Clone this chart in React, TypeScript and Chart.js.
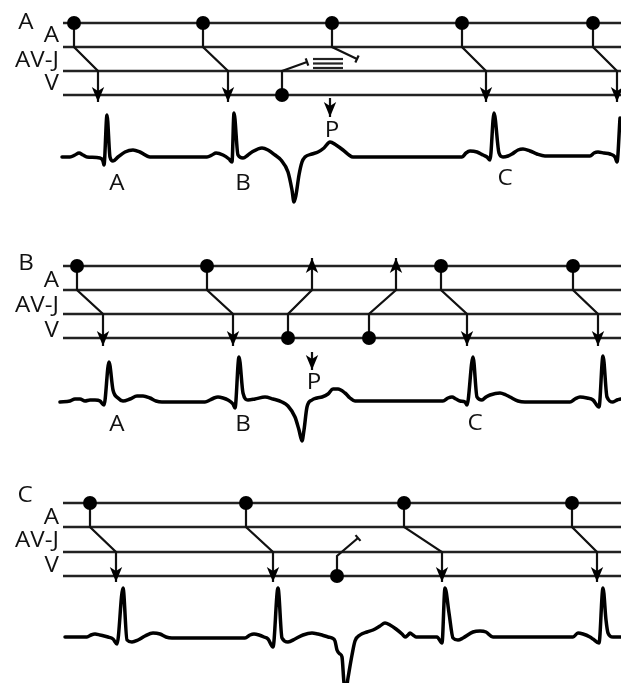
import React, { useEffect, useRef } from 'react';
import { Chart, registerables } from 'chart.js';

Chart.register(...registerables);

// ---------- data (diagram units: x = time position, y = vertical position) ----------
const X_RANGE = [0, 621];
const Y_RANGE = [0, 683];
const LADDER_X = [63, 621];

const LADDER_Y_A = [23, 47, 71, 95];
const LADDER_Y_B = [266, 290, 314, 338];
const LADDER_Y_C = [503, 527, 552, 576];

const PANEL_NAMES = ['A', 'B', 'C'];
const PANEL_NAME_POS = [[26, 22], [26, 263], [25, 495]];
const ROW_NAMES = ['A', 'AV-J', 'V'];
const ROW_LABEL_X = 59;
const ROW_LABEL_Y_A = [35, 60, 83.5];
const ROW_LABEL_Y_B = [280, 305, 330];
const ROW_LABEL_Y_C = [517, 540, 565];

type PathDef = { pts: number[][]; end: 'arrow' | 'block' | 'none' };

const PATHS_A: PathDef[] = [
  { pts: [[74, 23], [74, 47], [98, 71], [98, 102]], end: 'arrow' },
  { pts: [[203, 23], [203, 47], [228, 71], [228, 102]], end: 'arrow' },
  { pts: [[332, 23], [332, 47], [357, 59]], end: 'block' },
  { pts: [[462, 23], [462, 47], [486, 71], [486, 102]], end: 'arrow' },
  { pts: [[593, 23], [593, 47], [617, 71], [617, 102]], end: 'arrow' },
  { pts: [[282, 95], [282, 71], [307, 62]], end: 'block' },
  { pts: [[330, 98], [330, 117]], end: 'arrow' },
];
const DOTS_A = [[74, 23], [203, 23], [332, 23], [462, 23], [593, 23], [282, 95]];
const BLOCK_BARS_A = [[313, 343, 59], [313, 343, 63.5], [313, 343, 68]];

const PATHS_B: PathDef[] = [
  { pts: [[77, 266], [77, 290], [103, 314], [103, 346]], end: 'arrow' },
  { pts: [[207, 266], [207, 290], [233, 314], [233, 346]], end: 'arrow' },
  { pts: [[288, 338], [288, 314], [312, 290], [312, 258]], end: 'arrow' },
  { pts: [[369, 338], [369, 314], [396, 290], [396, 258]], end: 'arrow' },
  { pts: [[441, 266], [441, 290], [467, 314], [467, 346]], end: 'arrow' },
  { pts: [[573, 266], [573, 290], [598, 314], [598, 346]], end: 'arrow' },
  { pts: [[312, 352], [312, 370]], end: 'arrow' },
];
const DOTS_B = [[77, 266], [207, 266], [441, 266], [573, 266], [288, 338], [369, 338]];

const PATHS_C: PathDef[] = [
  { pts: [[90, 503], [90, 527], [116, 552], [116, 582]], end: 'arrow' },
  { pts: [[246, 503], [246, 527], [273, 552], [273, 582]], end: 'arrow' },
  { pts: [[337, 576], [337, 556], [358, 538]], end: 'block' },
  { pts: [[404, 503], [404, 527], [442, 552], [442, 582]], end: 'arrow' },
  { pts: [[572, 503], [572, 527], [597, 552], [597, 582]], end: 'arrow' },
];
const DOTS_C = [[90, 503], [246, 503], [404, 503], [572, 503], [337, 576]];

const ECG_A = [
  [62, 157], [70, 157], [75, 155], [79, 153], [83, 155], [87, 157], [100, 158], [103, 161], [104, 165],
  [107, 115], [110, 157], [113, 161], [118, 157], [125, 152], [133, 150], [140, 152], [150, 157],
  [207, 157], [212, 155], [216, 153], [223, 155], [229, 159], [232, 162], [234, 113], [238, 155],
  [243, 158], [248, 155], [252, 152], [262, 148], [268, 150], [275, 155], [281, 160], [288, 172],
  [292, 190], [294, 202], [296, 195], [299, 175], [302, 162], [305, 157], [312, 154], [318, 152],
  [324, 148], [330, 142], [336, 145], [343, 150], [349, 155], [353, 157], [462, 157], [466, 153],
  [470, 151], [477, 152], [483, 155], [487, 157], [490, 160], [494, 113], [499, 153], [503, 157],
  [508, 156], [512, 154], [518, 150], [523, 149], [530, 151], [537, 154], [545, 156], [590, 156],
  [594, 153], [598, 152], [604, 153], [610, 154], [615, 157], [617, 162], [620, 118],
];

const ECG_B = [
  [60, 402], [70, 401], [75, 399], [80, 399], [85, 401], [90, 400], [95, 400], [100, 401], [104, 405],
  [109, 362], [113, 390], [118, 398], [123, 401], [130, 399], [137, 396], [143, 396], [150, 398],
  [156, 401], [162, 402], [205, 402], [210, 400], [214, 398], [218, 397], [223, 398], [228, 400],
  [233, 404], [235, 408], [239, 357], [243, 393], [248, 400], [255, 399], [265, 397], [273, 399],
  [282, 402], [288, 406], [295, 417], [299, 430], [302, 441], [304, 430], [307, 407], [312, 400],
  [317, 398], [322, 397], [328, 394], [333, 389], [338, 389], [345, 393], [350, 398], [355, 401],
  [443, 401], [448, 398], [452, 397], [456, 399], [460, 401], [465, 402], [467, 405], [473, 357],
  [477, 397], [482, 400], [486, 397], [490, 395], [500, 393], [506, 395], [510, 397], [518, 401],
  [525, 402], [570, 402], [575, 399], [580, 397], [587, 398], [593, 400], [599, 407], [603, 356],
  [607, 397], [613, 402], [617, 400], [621, 399],
];

const ECG_C = [
  [65, 637], [87, 637], [91, 635], [95, 634], [100, 635], [108, 637], [113, 639], [117, 644],
  [123, 588], [127, 640], [132, 642], [138, 640], [145, 636], [153, 633], [160, 634], [166, 637],
  [172, 638], [245, 638], [250, 635], [254, 634], [259, 635], [264, 637], [268, 639], [273, 647],
  [278, 588], [282, 638], [288, 642], [295, 639], [303, 635], [312, 633], [318, 634], [322, 635],
  [328, 637], [332, 638], [335, 641], [337, 650], [340, 654], [342, 657], [344, 683], [346, 690],
  [348, 678], [352, 655], [355, 641], [360, 635], [367, 632], [373, 630], [380, 626], [385, 623],
  [390, 625], [396, 629], [402, 634], [405, 637], [408, 635], [410, 633], [413, 635], [416, 637],
  [437, 637], [442, 643], [445, 588], [449, 613], [453, 638], [458, 640], [463, 638], [473, 632],
  [480, 631], [486, 632], [493, 637], [573, 637], [578, 633], [583, 634], [590, 637], [593, 639],
  [599, 643], [603, 588], [606, 620], [608, 633], [613, 637], [621, 637],
];

const ECG_LABELS_A: [string, number, number][] = [['A', 117, 183], ['B', 243, 183], ['C', 505, 178], ['P', 332, 130]];
const ECG_LABELS_B: [string, number, number][] = [['A', 117, 424], ['B', 243, 424], ['C', 475, 423], ['P', 314, 382]];

// ---------- styles ----------
const LADDER_COLOR = '#222222';
const INK = '#000000';
const FONT = '21px "Open Sans", "DejaVu Sans", sans-serif';
const TEXT_STRETCH = 1.15;

const toXY = (p: number[]) => ({ x: p[0], y: p[1] });

function lineDs(points: number[][], width: number, color: string, extra: any = {}) {
  return {
    type: 'line' as const,
    data: points.map(toXY),
    borderColor: color,
    borderWidth: width,
    pointRadius: 0,
    showLine: true,
    fill: false,
    tension: 0,
    order: 2,
    ...extra,
  };
}

function buildDatasets() {
  const ds: any[] = [];
  for (const ys of [LADDER_Y_A, LADDER_Y_B, LADDER_Y_C]) {
    for (const y of ys) ds.push(lineDs([[LADDER_X[0], y], [LADDER_X[1], y]], 2.4, LADDER_COLOR, { order: 3 }));
  }
  for (const paths of [PATHS_A, PATHS_B, PATHS_C]) {
    for (const p of paths) ds.push(lineDs(p.pts, 2.2, '#111', { borderJoinStyle: 'miter' }));
  }
  for (const b of BLOCK_BARS_A) ds.push(lineDs([[b[0], b[2]], [b[1], b[2]]], 2.2, LADDER_COLOR));
  for (const ecg of [ECG_A, ECG_B, ECG_C]) {
    ds.push(
      lineDs(ecg, 3.5, INK, {
        cubicInterpolationMode: 'monotone',
        borderJoinStyle: 'round',
        borderCapStyle: 'round',
        order: 1,
      })
    );
  }
  for (const dots of [DOTS_A, DOTS_B, DOTS_C]) {
    ds.push({
      type: 'scatter' as const,
      data: dots.map(toXY),
      pointRadius: 7,
      pointBackgroundColor: INK,
      pointBorderWidth: 0,
      showLine: false,
      order: 0,
    });
  }
  return ds;
}

const overlayPlugin = {
  id: 'ladderOverlay',
  afterDatasetsDraw(chart: any) {
    const { ctx } = chart;
    const sx = chart.scales.x;
    const sy = chart.scales.y;
    const px = (p: number[]) => [sx.getPixelForValue(p[0]), sy.getPixelForValue(p[1])];
    ctx.save();
    ctx.fillStyle = INK;
    ctx.strokeStyle = '#111';
    ctx.lineWidth = 2.2;
    for (const paths of [PATHS_A, PATHS_B, PATHS_C]) {
      for (const path of paths) {
        const n = path.pts.length;
        const a = px(path.pts[n - 2]);
        const b = px(path.pts[n - 1]);
        const dx = b[0] - a[0];
        const dy = b[1] - a[1];
        const len = Math.hypot(dx, dy) || 1;
        const ux = dx / len, uy = dy / len;
        const nx = -uy, ny = ux;
        if (path.end === 'arrow') {
          const L = 15, W = 6.2, N = 11;
          ctx.beginPath();
          ctx.moveTo(b[0], b[1]);
          ctx.lineTo(b[0] - ux * L + nx * W, b[1] - uy * L + ny * W);
          ctx.lineTo(b[0] - ux * N, b[1] - uy * N);
          ctx.lineTo(b[0] - ux * L - nx * W, b[1] - uy * L - ny * W);
          ctx.closePath();
          ctx.fill();
        } else if (path.end === 'block') {
          const T = 3.8;
          ctx.beginPath();
          ctx.moveTo(b[0] + nx * T, b[1] + ny * T);
          ctx.lineTo(b[0] - nx * T, b[1] - ny * T);
          ctx.stroke();
        }
      }
    }
    // text
    ctx.fillStyle = '#111';
    ctx.font = FONT;
    ctx.textBaseline = 'middle';
    const drawText = (t: string, x: number, y: number, align: CanvasTextAlign) => {
      const [X, Y] = px([x, y]);
      ctx.save();
      ctx.translate(X, Y + 1);
      ctx.scale(TEXT_STRETCH, 1);
      ctx.textAlign = align;
      ctx.fillText(t, 0, 0);
      ctx.restore();
    };
    PANEL_NAMES.forEach((name, i) => drawText(name, PANEL_NAME_POS[i][0], PANEL_NAME_POS[i][1], 'center'));
    for (const ys of [ROW_LABEL_Y_A, ROW_LABEL_Y_B, ROW_LABEL_Y_C]) {
      ROW_NAMES.forEach((name, i) => drawText(name, ROW_LABEL_X, ys[i], 'right'));
    }
    for (const labels of [ECG_LABELS_A, ECG_LABELS_B]) {
      for (const [t, x, y] of labels) drawText(t, x, y, 'center');
    }
    ctx.restore();
  },
};

export default function App() {
  const canvasRef = useRef<HTMLCanvasElement>(null);
  useEffect(() => {
    document.body.style.margin = '0';
    document.body.style.background = '#ffffff';
    const canvas = canvasRef.current;
    if (!canvas) return;
    const chart = new Chart(canvas, {
      type: 'scatter',
      data: { datasets: buildDatasets() },
      options: {
        responsive: false,
        animation: false,
        devicePixelRatio: 1,
        events: [],
        layout: { padding: 0, autoPadding: false } as any,
        plugins: { legend: { display: false }, tooltip: { enabled: false }, title: { display: false } },
        scales: {
          x: { type: 'linear', min: X_RANGE[0], max: X_RANGE[1], display: false },
          y: { type: 'linear', min: Y_RANGE[0], max: Y_RANGE[1], reverse: true, display: false },
        },
      },
      plugins: [overlayPlugin],
    });
    return () => chart.destroy();
  }, []);
  return <canvas ref={canvasRef} width={621} height={683} style={{ display: 'block' }} />;
}
